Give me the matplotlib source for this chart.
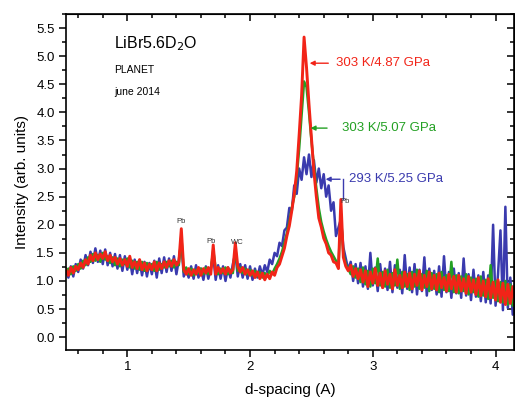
import numpy as np
import matplotlib
matplotlib.use("Agg")
import matplotlib.pyplot as plt
from matplotlib.ticker import MultipleLocator

plt.rcParams["font.family"] = ["Liberation Sans", "DejaVu Sans"]

# d-spacing sample positions (A), step 0.02
d = np.round(np.arange(0.50, 4.17, 0.02), 2)

# intensities, rows of 10 points (0.2 A each)
red_4p87 = [
    1.20, 1.10, 1.24, 1.14, 1.26, 1.20, 1.32, 1.24, 1.38, 1.30,
    1.46, 1.36, 1.50, 1.38, 1.48, 1.40, 1.52, 1.36, 1.46, 1.34,
    1.42, 1.30, 1.40, 1.28, 1.38, 1.26, 1.44, 1.24, 1.34, 1.22,
    1.38, 1.20, 1.32, 1.18, 1.30, 1.20, 1.34, 1.18, 1.32, 1.22,
    1.34, 1.24, 1.36, 1.26, 1.38, 1.28, 1.34, 1.93, 1.20, 1.12,
    1.22, 1.10, 1.20, 1.12, 1.24, 1.10, 1.22, 1.14, 1.24, 1.12,
    1.64, 1.12, 1.24, 1.14, 1.22, 1.12, 1.24, 1.14, 1.20, 1.68,
    1.26, 1.16, 1.24, 1.12, 1.20, 1.10, 1.18, 1.06, 1.16, 1.04,
    1.14, 1.02, 1.12, 1.04, 1.16, 1.10, 1.24, 1.30, 1.44, 1.58,
    1.80, 1.98, 2.25, 2.55, 2.95, 3.60, 4.30, 5.34, 4.80, 4.15,
    3.55, 2.95, 2.50, 2.12, 1.96, 1.76, 1.66, 1.50, 1.46, 1.34,
    1.32, 1.22, 2.45, 1.42, 1.26, 1.18, 1.28, 1.08, 1.22, 1.04,
    1.20, 0.98, 1.18, 0.90, 1.16, 0.96, 1.22, 0.92, 1.14, 0.88,
    1.18, 0.94, 1.12, 0.86, 1.20, 0.92, 1.10, 0.88, 1.16, 0.90,
    1.14, 0.86, 1.12, 0.92, 1.18, 0.84, 1.10, 0.90, 1.16, 0.86,
    1.10, 0.84, 1.14, 0.88, 1.06, 0.82, 1.12, 0.86, 1.08, 0.80,
    1.10, 0.82, 1.04, 0.78, 1.08, 0.80, 1.02, 0.76, 1.06, 0.74,
    1.00, 0.72, 1.04, 0.70, 0.98, 0.66, 1.02, 0.62, 0.96, 0.58,
    0.94, 0.60, 0.90, 0.56,
]

green_5p07 = [
    1.16, 1.22, 1.12, 1.26, 1.18, 1.30, 1.22, 1.36, 1.28, 1.42,
    1.34, 1.48, 1.36, 1.46, 1.34, 1.50, 1.38, 1.44, 1.32, 1.42,
    1.28, 1.40, 1.26, 1.38, 1.30, 1.40, 1.24, 1.36, 1.22, 1.34,
    1.20, 1.34, 1.18, 1.32, 1.22, 1.30, 1.18, 1.34, 1.20, 1.30,
    1.24, 1.34, 1.26, 1.36, 1.24, 1.34, 1.28, 1.80, 1.16, 1.24,
    1.12, 1.22, 1.10, 1.20, 1.14, 1.22, 1.12, 1.24, 1.12, 1.20,
    1.55, 1.22, 1.12, 1.22, 1.14, 1.24, 1.12, 1.20, 1.14, 1.60,
    1.18, 1.24, 1.14, 1.22, 1.12, 1.20, 1.10, 1.18, 1.08, 1.16,
    1.06, 1.14, 1.08, 1.18, 1.12, 1.22, 1.30, 1.40, 1.52, 1.68,
    1.85, 2.05, 2.30, 2.50, 2.85, 3.35, 3.95, 4.55, 4.45, 4.00,
    3.50, 3.05, 2.65, 2.30, 2.05, 1.88, 1.74, 1.62, 1.52, 1.44,
    1.36, 1.28, 2.20, 1.48, 1.30, 1.22, 1.12, 1.26, 1.06, 1.22,
    0.98, 1.24, 0.94, 1.18, 0.90, 1.22, 0.96, 1.40, 0.92, 1.16,
    0.90, 1.20, 0.88, 1.14, 0.92, 1.38, 0.86, 1.16, 0.90, 1.12,
    0.84, 1.16, 0.90, 1.20, 0.86, 1.12, 0.88, 1.18, 0.82, 1.14,
    0.86, 1.12, 0.80, 1.16, 0.84, 1.10, 0.82, 1.34, 0.80, 1.10,
    0.78, 1.08, 0.82, 1.12, 0.76, 1.06, 0.80, 1.04, 0.72, 1.08,
    0.74, 1.02, 0.68, 1.28, 0.70, 1.00, 0.64, 0.98, 0.62, 1.00,
    0.58, 0.94, 0.56, 0.92,
]

blue_5p25 = [
    1.22, 1.06, 1.26, 1.08, 1.30, 1.16, 1.38, 1.22, 1.46, 1.28,
    1.52, 1.32, 1.58, 1.34, 1.54, 1.30, 1.56, 1.28, 1.50, 1.26,
    1.48, 1.22, 1.46, 1.18, 1.44, 1.20, 1.40, 1.12, 1.38, 1.14,
    1.36, 1.10, 1.34, 1.08, 1.32, 1.12, 1.36, 1.06, 1.40, 1.14,
    1.42, 1.16, 1.40, 1.18, 1.44, 1.12, 1.38, 1.70, 1.08, 1.20,
    1.06, 1.26, 1.04, 1.28, 1.06, 1.22, 1.02, 1.26, 1.04, 1.22,
    1.45, 1.02, 1.28, 1.04, 1.26, 1.00, 1.24, 1.06, 1.30, 1.50,
    1.08, 1.30, 1.06, 1.28, 1.04, 1.26, 1.02, 1.22, 1.06, 1.26,
    1.10, 1.28, 1.16, 1.38, 1.30, 1.50, 1.44, 1.68, 1.62, 1.90,
    1.95, 2.30, 2.25, 2.70, 2.55, 3.00, 2.80, 3.20, 2.90, 3.25,
    2.85, 3.15, 2.75, 3.00, 2.65, 2.90, 2.50, 2.70, 2.25, 2.40,
    1.80, 1.95, 2.10, 1.60, 1.40, 1.20, 1.34, 1.00, 1.30, 0.96,
    1.32, 0.90, 1.26, 0.86, 1.50, 0.92, 1.24, 0.82, 1.30, 0.88,
    1.22, 0.84, 1.34, 0.80, 1.28, 0.88, 1.20, 0.78, 1.46, 0.86,
    1.24, 0.80, 1.30, 0.76, 1.20, 0.82, 1.42, 0.74, 1.22, 0.84,
    1.18, 0.76, 1.26, 0.72, 1.44, 0.80, 1.16, 0.70, 1.22, 0.78,
    1.14, 0.70, 1.40, 0.74, 1.12, 0.66, 1.20, 0.72, 1.10, 0.64,
    1.16, 0.62, 1.10, 0.60, 2.00, 0.56, 1.12, 1.90, 0.48, 2.32,
    0.52, 1.06, 0.40, 0.98,
]

RED = "#f22418"
GREEN = "#23a023"
BLUE = "#3a3aae"

fig = plt.figure(figsize=(5.15, 4.01), dpi=100)
ax = fig.add_axes([0.128, 0.127, 0.870, 0.838])

ax.plot(d, blue_5p25, color=BLUE, lw=1.8)
ax.plot(d, green_5p07, color=GREEN, lw=1.8)
ax.plot(d, red_4p87, color=RED, lw=2.1)

ax.set_xlim(0.5, 4.15)
ax.set_ylim(-0.23, 5.75)
ax.xaxis.set_major_locator(MultipleLocator(1))
ax.xaxis.set_minor_locator(MultipleLocator(0.2))
ax.yaxis.set_major_locator(MultipleLocator(0.5))
ax.yaxis.set_minor_locator(MultipleLocator(0.25))
ax.tick_params(which="both", direction="out", top=False, right=False,
               labelsize=9.5, width=1.1)
ax.tick_params(which="major", length=5, pad=3)
ax.tick_params(which="minor", length=3)

# mirrored ticks on top and right, pointing inward
top = ax.secondary_xaxis("top")
top.xaxis.set_major_locator(MultipleLocator(1))
top.xaxis.set_minor_locator(MultipleLocator(0.2))
top.set_xticklabels([])
right = ax.secondary_yaxis("right")
right.yaxis.set_major_locator(MultipleLocator(0.5))
right.yaxis.set_minor_locator(MultipleLocator(0.25))
right.set_yticklabels([])
for sec in (top, right):
    sec.tick_params(which="both", direction="in", width=1.1)
    sec.tick_params(which="major", length=5)
    sec.tick_params(which="minor", length=3)
for s in ax.spines.values():
    s.set_linewidth(1.2)

ax.set_xlabel("d-spacing (A)", fontsize=11, labelpad=7)
ax.set_ylabel("Intensity (arb. units)", fontsize=11, labelpad=5)

ax.text(0.89, 5.23, "LiBr5.6D$_2$O", fontsize=11.5, va="center")
ax.text(0.89, 4.75, "PLANET", fontsize=7.5, va="center")
ax.text(0.89, 4.36, "june 2014", fontsize=7.5, va="center")

arrow = dict(arrowstyle="-|>", lw=1.0, mutation_scale=7)
ax.annotate("", xy=(2.463, 4.875), xytext=(2.66, 4.875),
            arrowprops=dict(arrow, color=RED))
ax.text(2.70, 4.875, "303 K/4.87 GPa", color=RED, fontsize=9.5, va="center")
ax.annotate("", xy=(2.47, 3.72), xytext=(2.65, 3.72),
            arrowprops=dict(arrow, color=GREEN))
ax.text(2.75, 3.72, "303 K/5.07 GPa", color=GREEN, fontsize=9.5, va="center")
ax.annotate("", xy=(2.593, 2.81), xytext=(2.756, 2.81),
            arrowprops=dict(arrow, color=BLUE))
ax.plot([2.756, 2.756], [2.81, 2.45], color=BLUE, lw=1.0)
ax.text(2.81, 2.81, "293 K/5.25 GPa", color=BLUE, fontsize=9.5, va="center")

small = dict(fontsize=5.5, color="#333333", ha="center", va="center")
ax.text(1.44, 2.05, "Pb", **small)
ax.text(1.68, 1.71, "Pb", **small)
ax.text(1.90, 1.69, "WC", **small)
ax.text(2.77, 2.42, "Pb", **small)

fig.savefig("out.png", dpi=100)
